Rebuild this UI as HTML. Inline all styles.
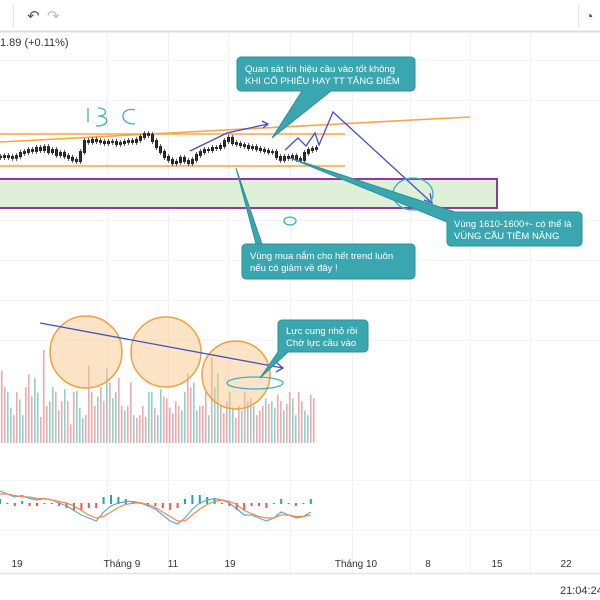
<!DOCTYPE html>
<html><head><meta charset="utf-8"><style>
html,body{margin:0;padding:0;background:#fff;width:600px;height:600px;overflow:hidden;font-family:"Liberation Sans","Noto Sans CJK SC",sans-serif}
</style></head><body>
<svg id="c" width="600" height="600" xmlns="http://www.w3.org/2000/svg" font-family="Liberation Sans, DejaVu Sans, sans-serif">
<rect width="600" height="600" fill="#fff"/>
<g>
<line x1="0" y1="31.5" x2="600" y2="31.5" stroke="#dcdde0" stroke-width="2"/>
<line x1="13.5" y1="4" x2="13.5" y2="28" stroke="#e6e6e6"/>
<line x1="578.5" y1="4" x2="578.5" y2="28" stroke="#e6e6e6"/>
<text x="27" y="21" font-size="15" fill="#555">↶</text>
<text x="47" y="21" font-size="15" fill="#bbb">↷</text>
<text x="585" y="21" font-size="14" fill="#555">◔</text>
</g>
<g id="grid"></g>
<text x="0" y="46" font-size="11" fill="#333">1.89 (+0.11%)</text>
<rect x="-2" y="179" width="499" height="29" fill="#dff0d9" stroke="#8e3a9e" stroke-width="2"/>
<g stroke="#f5a54a" stroke-width="1.6">
<line x1="0" y1="134" x2="345" y2="134"/><line x1="0" y1="166" x2="345" y2="166"/><line x1="0" y1="142" x2="470" y2="117"/>
</g>
<g id="price"></g>
<g id="vol"></g>
<g id="macd"></g>
<g fill="rgba(250,196,130,0.45)" stroke="#f0a040" stroke-width="1.5">
<circle cx="86" cy="352" r="36"/><circle cx="166" cy="352" r="35"/><circle cx="236" cy="375" r="34"/>
</g>
<g fill="none" stroke="#3f51c4" stroke-width="1.3">
<polyline points="40,323 283,368"/><polyline points="277,363 283,368 276,372"/>
<polyline points="190,151 227,133 268,124"/><polyline points="262,121 268,124 263,128"/>
<polyline points="285,150 298,138 306,146 315,133 319,145 333,112 432,203"/><polyline points="430,193 432,203 424,200"/>
<path d="M88 122 v-14 M98 108 c10 0 10 8 0 8 c12 0 12 10 -2 10 M135 110 c-14 -4 -18 14 0 14" stroke="#3ab0c0"/>
<ellipse cx="255" cy="383" rx="28" ry="6" stroke="#3ab0c0"/>
<ellipse cx="413" cy="194" rx="20" ry="16" stroke="#3ab0c0"/>
<ellipse cx="290" cy="221" rx="6" ry="4" stroke="#3ab0c0"/>
</g>
<g>
<path d="M241 57 h170 a4 4 0 0 1 4 4 v26 a4 4 0 0 1 -4 4 h-80 l-59 47 l30 -47 h-61 a4 4 0 0 1 -4 -4 v-26 a4 4 0 0 1 4 -4z" fill="#3aa6b0" stroke="#2f8f99"/>
<text x="245" y="72" font-size="9.5" fill="#fff">Quan sát tín hiệu cầu vào tốt không</text>
<text x="245" y="84" font-size="9.5" fill="#fff">KHI CỔ PHIẾU HAY TT TĂNG ĐIỂM</text>
</g>
<g>
<path d="M246 244 h165 a4 4 0 0 1 4 4 v27 a4 4 0 0 1 -4 4 h-165 a4 4 0 0 1 -4 -4 v-27 a4 4 0 0 1 4 -4 h10 l-20 -76 l26 76z" fill="#3aa6b0" stroke="#2f8f99"/>
<text x="250" y="259" font-size="9.5" fill="#fff">Vùng mua nắm cho hết trend luôn</text>
<text x="250" y="271" font-size="9.5" fill="#fff">nếu có giảm về đây !</text>
</g>
<g>
<path d="M451 212 h127 a4 4 0 0 1 4 4 v26 a4 4 0 0 1 -4 4 h-127 a4 4 0 0 1 -4 -4 v-20 l-157 -64 l165 54z" fill="#3aa6b0" stroke="#2f8f99"/>
<text x="454" y="227" font-size="9.5" fill="#fff">Vùng 1610-1600+- có thể là</text>
<text x="454" y="239" font-size="9.5" fill="#fff">VÙNG CẦU TIỀM NĂNG</text>
</g>
<g>
<path d="M282 320 h82 a4 4 0 0 1 4 4 v24 a4 4 0 0 1 -4 4 h-76 l-28 26 l18 -26 v-28 a4 4 0 0 1 4 -4z" fill="#3aa6b0" stroke="#2f8f99"/>
<text x="286" y="334" font-size="9.5" fill="#fff">Lực cung nhỏ rồi</text>
<text x="286" y="346" font-size="9.5" fill="#fff">Chờ lực cầu vào</text>
</g>
<g id="xaxis">
<line x1="0" y1="573.5" x2="600" y2="573.5" stroke="#e3e3e3" stroke-width="1.5"/>
</g>
<text x="560" y="594" font-size="11" fill="#333">21:04:24</text>
</svg>
<script>
const closes=[1617.6,1617.9,1617.6,1617.3,1617.9,1619.0,1619.3,1620.0,1619.7,1620.7,1620.0,1621.0,1619.3,1620.0,1618.3,1619.0,1617.9,1617.3,1616.6,1616.2,1619.3,1623.1,1622.8,1623.5,1623.1,1622.8,1622.4,1622.8,1622.8,1622.1,1622.4,1622.8,1623.1,1622.8,1623.5,1624.5,1625.5,1625.2,1623.1,1621.0,1619.3,1617.6,1616.6,1615.5,1615.9,1617.3,1616.2,1615.5,1616.6,1618.3,1619.3,1620.0,1620.0,1620.7,1620.7,1621.4,1623.1,1624.2,1622.4,1622.1,1621.7,1621.4,1620.7,1621.0,1620.4,1620.0,1619.7,1619.3,1619.3,1617.6,1616.6,1617.6,1617.3,1617.9,1616.9,1616.6,1619.0,1620.0,1620.4,1620.7];
const volumes=[78,60,55,38,30,55,47,30,60,74,50,70,54,28,100,40,45,60,55,35,45,58,45,20,55,56,38,27,30,83,55,40,50,60,45,80,65,48,55,70,40,35,40,65,30,27,30,40,28,55,55,38,30,58,50,48,38,32,45,40,35,55,75,60,65,35,40,40,55,30,92,60,75,40,32,45,55,38,27,40,35,55,45,48,40,30,35,40,48,42,45,38,52,45,35,42,55,48,30,55,45,35,30,52,48];
const volDir="dduudduuddduuddduudududdduuuddddudduduudduddudddduuduudddddduudduuddduduuddduuddudududdduduuddudduudduu";
const macdLine=[8,6,4,5,3,2,3,2,0,-2,-5,-8,-10,-12,-6,-2,0,1,1,0,-2,-4,-8,-12,-14,-10,-4,0,2,3,2,0,-4,-8,-8,-10,-12,-10,-6,-8,-10,-9,-6];
const signalLine=[6,6,5,4,4,3,3,2,1,0,-2,-5,-8,-10,-9,-6,-3,-1,0,0,-1,-3,-6,-9,-12,-12,-8,-4,-1,1,2,1,-1,-5,-7,-9,-10,-10,-8,-8,-9,-9,-8];
const xTicks=["19","Tháng 9","11","19","Tháng 10","8","15","22"];
const gridX=[17,122,173,230,356,428,497,566];
const NS="http://www.w3.org/2000/svg";
function el(t,a,p){const e=document.createElementNS(NS,t);for(const k in a)e.setAttribute(k,a[k]);p.appendChild(e);return e;}
const g=document.getElementById('grid');
[107,168,228,290,352,410,470,530].forEach(x=>{const l=el('line',{x1:x+.5,y1:33,x2:x+.5,y2:573,stroke:'#f0f1f3'},g);});
[60,100,220,260,300,340,480,530].forEach(y=>{el('line',{x1:0,y1:y+.5,x2:600,y2:y+.5,stroke:'#f3f4f6'},g);});
const py=v=>208-(v-1600)/0.345, px=i=>i*4;
const pg=document.getElementById('price');
closes.forEach((v,i)=>{const prev=i?closes[i-1]:v;const y1=py(prev),y2=py(v);const b=el('rect',{x:px(i)-1,y:Math.min(y1,y2)-1,width:3,height:Math.abs(y1-y2)+2,fill:'#222'},pg);el('line',{x1:px(i)+.5,y1:Math.min(y1,y2)-3,x2:px(i)+.5,y2:Math.max(y1,y2)+3,stroke:'#333','stroke-width':.8},pg);});
const vg=document.getElementById('vol');const vb=443,vs=0.93,vx=i=>i*3+1;
volumes.forEach((v,i)=>{const h=v*vs;const r=el('rect',{x:vx(i),y:vb-h,width:1.6,height:h,fill:volDir[i]==='u'?'#8fd3c8':'#f3a8ad'},vg);});
const mg=document.getElementById('macd');const my=v=>503-v*1.5,mx=i=>i*7.4;
const pts=a=>a.map((v,i)=>mx(i)+','+my(v)).join(' ');
macdLine.forEach((v,i)=>{const d=v-signalLine[i];const h=el('rect',{x:mx(i)-1,y:Math.min(503,503-d*2),width:2,height:Math.abs(d*2)+1,fill:d>=0?'#26a69a':'#ef5350'},mg);});
const l1=el('polyline',{points:pts(macdLine),fill:'none',stroke:'#5aa7e0','stroke-width':1.2},mg);

const l2=el('polyline',{points:pts(signalLine),fill:'none',stroke:'#f08a4b','stroke-width':1.2},mg);

const xg=document.getElementById('xaxis');
xTicks.forEach((t,i)=>{const e=el('text',{x:gridX[i],y:567,'font-size':10,fill:'#333','text-anchor':'middle'},xg);e.textContent=t;});
</script>
</body></html>
